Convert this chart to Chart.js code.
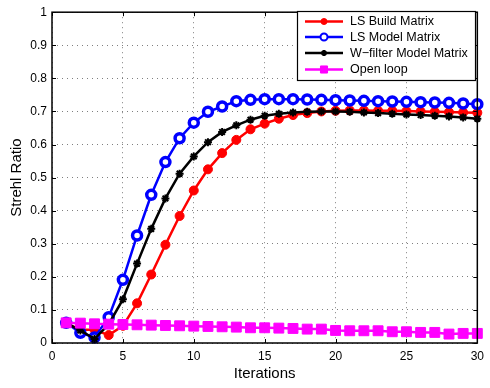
<!DOCTYPE html>
<html>
<head>
<meta charset="utf-8">
<script src="https://cdn.jsdelivr.net/npm/chart.js@4.4.1/dist/chart.umd.min.js"></script>
<style>
  html, body { margin: 0; padding: 0; background: #fff; }
  #c { display: block; }
</style>
</head>
<body>
<canvas id="c" width="490" height="388"></canvas>
<script>
const iterations = [1,2,3,4,5,6,7,8,9,10,11,12,13,14,15,16,17,18,19,20,21,22,23,24,25,26,27,28,29,30];
const lsBuild = [0.060,0.040,0.040,0.024,0.052,0.120,0.207,0.297,0.384,0.461,0.525,0.574,0.614,0.646,0.663,0.678,0.689,0.695,0.700,0.702,0.703,0.703,0.702,0.702,0.701,0.700,0.699,0.698,0.697,0.696];
const lsModel = [0.061,0.031,0.017,0.078,0.191,0.325,0.448,0.547,0.619,0.666,0.699,0.715,0.731,0.735,0.737,0.737,0.737,0.736,0.735,0.734,0.733,0.732,0.731,0.730,0.729,0.728,0.727,0.726,0.724,0.722];
const wFilter = [0.060,0.038,0.012,0.057,0.132,0.240,0.345,0.437,0.512,0.564,0.607,0.638,0.658,0.675,0.687,0.693,0.697,0.699,0.700,0.700,0.699,0.697,0.695,0.693,0.691,0.689,0.687,0.685,0.682,0.678];
const openLoop = [0.061,0.060,0.058,0.057,0.056,0.055,0.054,0.053,0.052,0.051,0.050,0.049,0.048,0.046,0.046,0.045,0.044,0.042,0.042,0.038,0.037,0.037,0.037,0.034,0.034,0.032,0.032,0.027,0.029,0.029];
const seriesNames = ['LS Build Matrix','LS Model Matrix','W\u2212filter Model Matrix','Open loop'];
const xTicks = [0,5,10,15,20,25,30];
const yTicks = [0,0.1,0.2,0.3,0.4,0.5,0.6,0.7,0.8,0.9,1];

const FONT = '"Liberation Sans", Arial, Helvetica, sans-serif';
const pts = arr => arr.map((v,i) => ({x: iterations[i], y: v}));

const styles = [
  {color:'#ff0000', pointStyle:'circle', radius:4.5, bg:'#ff0000', bw:1, order:4, lr:3},
  {color:'#0000ff', pointStyle:'circle', radius:4.5, bg:'#ffffff', bw:3.5, order:3, lr:3.5},
  {color:'#000000', pointStyle:'star', radius:4, bg:'#000000', bw:2, order:2, lr:3},
  {color:'#ff00ff', pointStyle:'rect', radius:7, bg:'#ff00ff', bw:1, order:1, lr:5}
];
const seriesData = [lsBuild, lsModel, wFilter, openLoop];

const datasets = seriesData.map((d,i) => ({
  label: seriesNames[i],
  data: pts(d),
  borderColor: styles[i].color,
  backgroundColor: styles[i].color,
  borderWidth: 2.5,
  pointStyle: styles[i].pointStyle,
  pointRadius: styles[i].radius,
  pointBackgroundColor: styles[i].bg,
  pointBorderColor: styles[i].color,
  pointBorderWidth: styles[i].bw,
  tension: 0,
  clip: false,
  order: styles[i].order
}));

const frame = {
  id: 'frame',
  afterDraw(chart) {
    const ctx = chart.ctx;
    const a = chart.chartArea;
    const xs = chart.scales.x, ys = chart.scales.y;
    ctx.save();
    ctx.strokeStyle = '#000';
    ctx.lineWidth = 1;
    ctx.beginPath();
    xTicks.forEach(t => {
      const px = Math.round(xs.getPixelForValue(t)) + 0.5;
      ctx.moveTo(px, a.bottom); ctx.lineTo(px, a.bottom - 4);
      ctx.moveTo(px, a.top); ctx.lineTo(px, a.top + 4);
    });
    yTicks.forEach(t => {
      const py = Math.round(ys.getPixelForValue(t)) + 0.5;
      ctx.moveTo(a.left, py); ctx.lineTo(a.left + 4, py);
      ctx.moveTo(a.right, py); ctx.lineTo(a.right - 4, py);
    });
    ctx.stroke();
    ctx.lineWidth = 1.5;
    ctx.strokeRect(a.left, a.top, a.right - a.left, a.bottom - a.top);

    // legend
    const lx = 297, ly = 11, lw = 178, lh = 69;
    ctx.fillStyle = '#fff';
    ctx.fillRect(lx, ly, lw, lh);
    ctx.lineWidth = 1.2;
    ctx.strokeStyle = '#000';
    ctx.strokeRect(lx + 0.5, ly + 0.5, lw, lh);
    const rows = [21.5, 37, 53, 69.5];
    ctx.font = '12.5px ' + FONT;
    ctx.textBaseline = 'middle';
    ctx.textAlign = 'left';
    seriesNames.forEach((name, i) => {
      const y = rows[i];
      const s = styles[i];
      ctx.strokeStyle = s.color;
      ctx.lineWidth = 2.5;
      ctx.beginPath(); ctx.moveTo(305, y); ctx.lineTo(343, y); ctx.stroke();
      ctx.fillStyle = s.bg; ctx.strokeStyle = s.color; ctx.lineWidth = Math.min(s.bw, 2);
      Chart.helpers.drawPoint(ctx, {pointStyle: s.pointStyle, radius: s.lr, borderWidth: Math.min(s.bw, 2)}, 324, y);
      ctx.fillStyle = '#000';
      ctx.fillText(name, 350, y + 0.5);
    });
    ctx.restore();
  }
};

new Chart(document.getElementById('c'), {
  type: 'line',
  data: { datasets },
  plugins: [frame],
  options: {
    responsive: false,
    animation: false,
    events: [],
    layout: { padding: { left: 0, right: 7, top: 4, bottom: 0 } },
    plugins: { legend: { display: false }, tooltip: { enabled: false } },
    scales: {
      x: {
        type: 'linear', min: 0, max: 30,
        afterFit: s => { s.height = 45; },
        afterBuildTicks: s => { s.ticks = xTicks.map(v => ({value: v})); },
        grid: { color: 'rgba(0,0,0,0.5)', lineWidth: 1, drawTicks: false, tickLength: 0 },
        border: { display: false, dash: [1,4] },
        ticks: { color: '#000', font: { family: FONT, size: 12 }, padding: 6, maxRotation: 0 },
        title: { display: true, text: 'Iterations', color: '#000', font: { family: FONT, size: 15 }, padding: { top: 0, bottom: 5 } }
      },
      y: {
        type: 'linear', min: 0, max: 1,
        afterFit: s => { s.width = 52; },
        afterBuildTicks: s => { s.ticks = yTicks.map(v => ({value: v})); },
        grid: { color: 'rgba(0,0,0,0.5)', lineWidth: 1, drawTicks: false, tickLength: 0 },
        border: { display: false, dash: [1,4] },
        ticks: { color: '#000', font: { family: FONT, size: 12 }, padding: 5,
          callback: v => (v === 0 || v === 1) ? String(v) : v.toFixed(1) },
        title: { display: true, text: 'Strehl Ratio', color: '#000', font: { family: FONT, size: 15 }, padding: { top: 8, bottom: 0 } }
      }
    }
  }
});
</script>
</body>
</html>
